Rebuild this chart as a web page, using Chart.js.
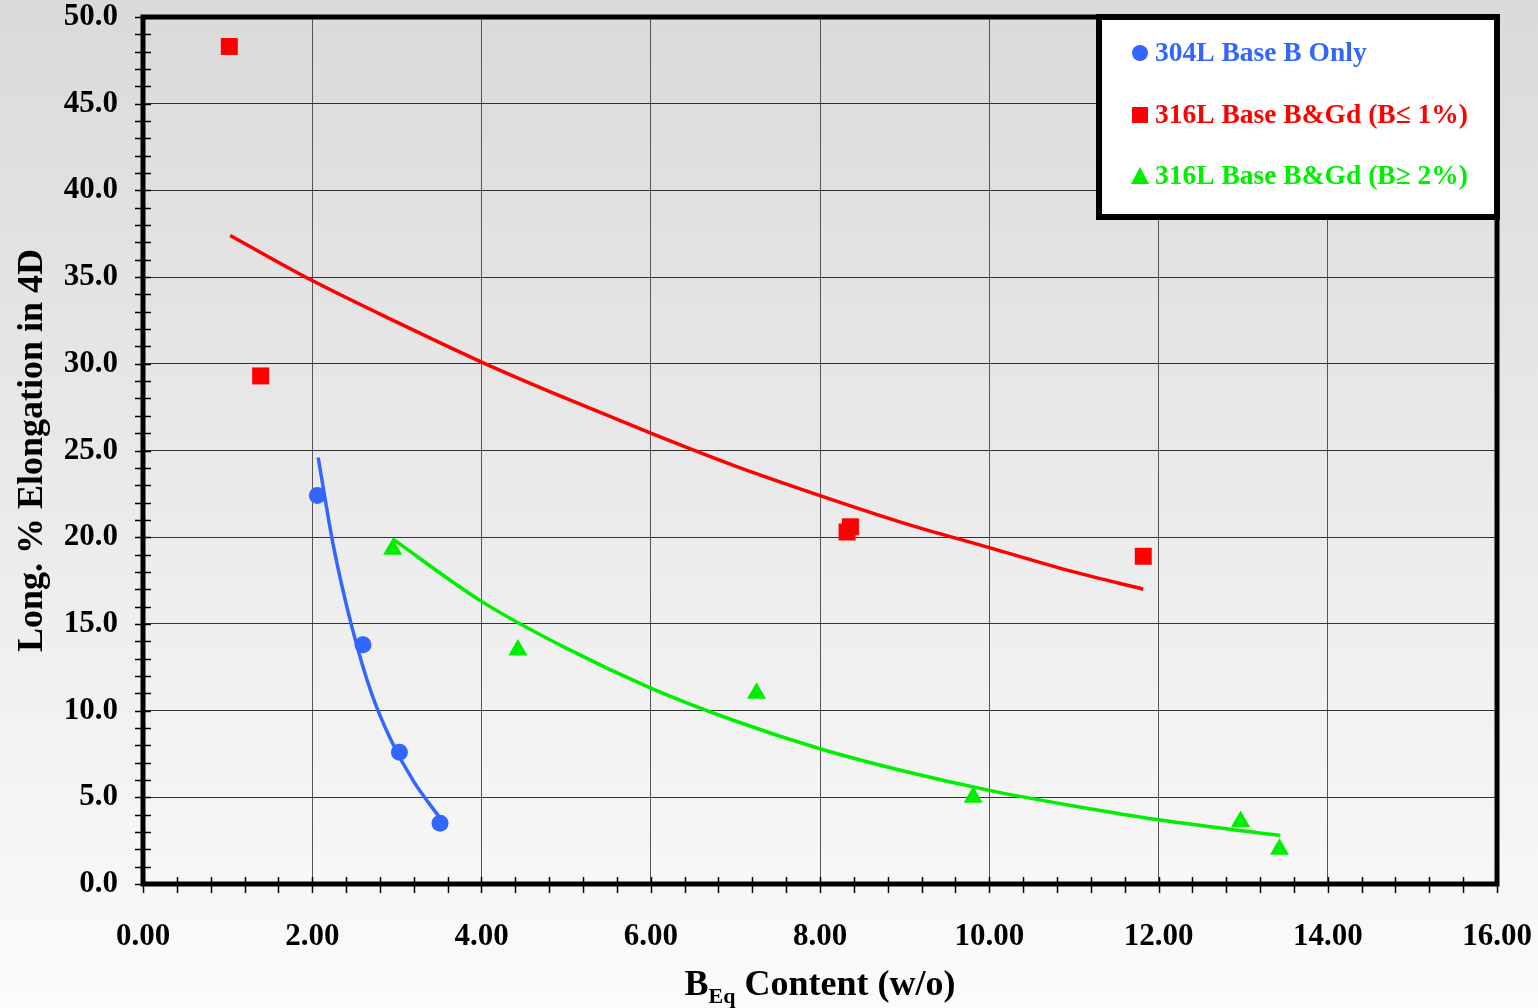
<!DOCTYPE html>
<html>
<head>
<meta charset="utf-8">
<title>Elongation vs B Eq Content</title>
<script src="https://cdn.jsdelivr.net/npm/chart.js@4.4.1/dist/chart.umd.min.js"></script>
<style>
  html, body { margin: 0; padding: 0; background: #f0f0f0; }
  #wrap { width: 1538px; height: 1008px; position: relative; }
</style>
</head>
<body>
<div id="wrap"><canvas id="chart"></canvas></div>
<script>
'use strict';

// ── Measured data ────────────────────────────────────────────────────────────
const base304X = [2.06, 2.60, 3.03, 3.51];
const base304Y = [22.4, 13.8, 7.6, 3.5];

const low316X = [1.02, 1.39, 8.32, 8.36, 11.82];
const low316Y = [48.3, 29.3, 20.3, 20.6, 18.9];

const high316X = [2.95, 4.43, 7.25, 9.81, 12.97, 13.43];
const high316Y = [19.3, 13.5, 11.0, 5.0, 3.6, 2.0];

// ── Trend curves ─────────────────────────────────────────────────────────────
const trend304X = [2.07, 2.25, 2.47, 2.70, 2.94, 3.20, 3.51];
const trend304Y = [24.6, 19.5, 14.8, 11.0, 8.2, 5.9, 3.8];

const trendLowX = [1.03, 2, 3, 4, 5, 6, 7, 8, 9, 10, 11, 11.82];
const trendLowY = [37.4, 34.8, 32.4, 30.1, 28.0, 26.0, 24.1, 22.4, 20.8, 19.4, 18.0, 17.0];

const trendHighX = [2.95, 4, 5, 6, 7, 8, 9, 10, 11, 12, 13.44];
const trendHighY = [19.9, 16.3, 13.6, 11.3, 9.4, 7.8, 6.5, 5.4, 4.5, 3.7, 2.8];

// ── Axis setup ───────────────────────────────────────────────────────────────
const X_MIN = 0, X_MAX = 16, X_STEP = 2, X_MINOR = 0.4;
const Y_MIN = 0, Y_MAX = 50, Y_STEP = 5, Y_MINOR = 1;

const seriesNames = ['304L Base B Only', '316L Base B&Gd (B\u2264 1%)', '316L Base B&Gd (B\u2265 2%)'];
const seriesColors = ['#3366ff', '#ff0000', '#00ee00'];
const seriesStyles = ['circle', 'rect', 'triangle'];

const SERIF = '"Liberation Serif", "Times New Roman", serif';

function pts(xs, ys) {
  return xs.map((x, i) => ({ x, y: ys[i] }));
}

function trendSet(xs, ys, color) {
  return {
    type: 'line',
    data: pts(xs, ys),
    borderColor: color,
    borderWidth: 3.5,
    pointRadius: 0,
    fill: false,
    cubicInterpolationMode: 'monotone',
  };
}

function markerSet(xs, ys, i, radius) {
  return {
    type: 'scatter',
    label: seriesNames[i],
    data: pts(xs, ys),
    pointStyle: seriesStyles[i],
    pointRadius: radius,
    pointHoverRadius: radius,
    backgroundColor: seriesColors[i],
    borderColor: seriesColors[i],
    borderWidth: 0,
  };
}

// ── Plugins: background, frame/minor ticks, titles, legend box ───────────────
const backdrop = {
  id: 'backdrop',
  beforeDraw(chart) {
    const { ctx, width, height } = chart;
    const g = ctx.createLinearGradient(0, 0, 0, height);
    g.addColorStop(0, '#dadada');
    g.addColorStop(1, '#fbfbfb');
    ctx.save();
    ctx.fillStyle = g;
    ctx.fillRect(0, 0, width, height);
    ctx.restore();
  },
};

const frame = {
  id: 'frame',
  afterDraw(chart) {
    const { ctx, chartArea: a, scales } = chart;
    ctx.save();
    ctx.strokeStyle = '#000';
    ctx.lineWidth = 1.5;
    ctx.beginPath();
    for (let v = Y_MIN; v <= Y_MAX + 1e-6; v += Y_MINOR) {
      const y = Math.round(scales.y.getPixelForValue(v)) + 0.5;
      ctx.moveTo(a.left - 8, y);
      ctx.lineTo(a.left + 8, y);
    }
    for (let v = X_MIN; v <= X_MAX + 1e-6; v += X_MINOR) {
      const x = Math.round(scales.x.getPixelForValue(v)) + 0.5;
      ctx.moveTo(x, a.bottom - 7);
      ctx.lineTo(x, a.bottom + 9);
    }
    ctx.stroke();

    ctx.lineWidth = 5;
    ctx.strokeRect(a.left, a.top, a.right - a.left, a.bottom - a.top);

    // x title with subscript
    ctx.fillStyle = '#000';
    ctx.textBaseline = 'alphabetic';
    ctx.textAlign = 'left';
    const big = 'bold 36px ' + SERIF, small = 'bold 22px ' + SERIF;
    const cx = (a.left + a.right) / 2;
    ctx.font = big;
    const wB = ctx.measureText('B').width;
    const wRest = ctx.measureText(' Content (w/o)').width;
    ctx.font = small;
    const wSub = ctx.measureText('Eq').width;
    const x0 = cx - (wB + wSub + wRest) / 2;
    const base = 995;
    ctx.font = big;
    ctx.fillText('B', x0, base);
    ctx.fillText(' Content (w/o)', x0 + wB + wSub, base);
    ctx.font = small;
    ctx.fillText('Eq', x0 + wB, base + 8);

    // y title
    ctx.translate(42, (a.top + a.bottom) / 2);
    ctx.rotate(-Math.PI / 2);
    ctx.textAlign = 'center';
    ctx.font = big;
    ctx.fillText('Long. % Elongation in 4D', 0, 0);
    ctx.restore();
  },
};

const legendBox = {
  id: 'legendBox',
  afterDraw(chart) {
    const { ctx, chartArea: a } = chart;
    const left = 1099, top = a.top, right = a.right, bottom = 217;
    ctx.save();
    ctx.fillStyle = '#fff';
    ctx.fillRect(left, top, right - left, bottom - top);
    ctx.strokeStyle = '#000';
    ctx.lineWidth = 6;
    ctx.strokeRect(left, top, right - left, bottom - top);

    const rows = [53, 115, 176];
    ctx.font = 'bold 27.5px ' + SERIF;
    ctx.textBaseline = 'middle';
    ctx.textAlign = 'left';
    rows.forEach((y, i) => {
      ctx.fillStyle = seriesColors[i];
      const mx = 1140;
      if (seriesStyles[i] === 'circle') {
        ctx.beginPath();
        ctx.arc(mx, y, 8, 0, Math.PI * 2);
        ctx.fill();
      } else if (seriesStyles[i] === 'rect') {
        ctx.fillRect(mx - 8, y - 8, 16, 16);
      } else {
        ctx.beginPath();
        ctx.moveTo(mx, y - 9);
        ctx.lineTo(mx + 9, y + 8);
        ctx.lineTo(mx - 9, y + 8);
        ctx.closePath();
        ctx.fill();
      }
      ctx.fillText(seriesNames[i], 1155, y + 1);
    });
    ctx.restore();
  },
};

// ── Chart ────────────────────────────────────────────────────────────────────
const tickFont = { family: SERIF, size: 31, weight: 'bold' };

new Chart(document.getElementById('chart'), {
  data: {
    datasets: [
      trendSet(trendLowX, trendLowY, seriesColors[1]),
      trendSet(trendHighX, trendHighY, seriesColors[2]),
      trendSet(trend304X, trend304Y, seriesColors[0]),
      markerSet(base304X, base304Y, 0, 8.5),
      markerSet(low316X, low316Y, 1, 12),
      markerSet(high316X, high316Y, 2, 11),
    ],
  },
  options: {
    responsive: true,
    maintainAspectRatio: false,
    animation: false,
    layout: { padding: { top: 17, right: 41, left: 0, bottom: 0 } },
    plugins: {
      legend: { display: false },
      tooltip: { enabled: false },
    },
    scales: {
      x: {
        type: 'linear',
        min: X_MIN, max: X_MAX,
        afterFit: s => { s.height = 124; s.paddingLeft = 0; s.paddingRight = 0; },
        border: { display: false },
        grid: { color: '#555', lineWidth: 1, drawTicks: false },
        ticks: {
          stepSize: X_STEP,
          padding: 34,
          color: '#000',
          font: tickFont,
          callback: v => v.toFixed(2),
        },
      },
      y: {
        type: 'linear',
        min: Y_MIN, max: Y_MAX,
        afterFit: s => { s.width = 143; s.paddingTop = 0; s.paddingBottom = 0; },
        border: { display: false },
        grid: { color: '#333', lineWidth: 1, drawTicks: false },
        ticks: {
          stepSize: Y_STEP,
          padding: 25,
          color: '#000',
          font: tickFont,
          callback: v => v.toFixed(1),
        },
      },
    },
  },
  plugins: [backdrop, frame, legendBox],
});
</script>
</body>
</html>
